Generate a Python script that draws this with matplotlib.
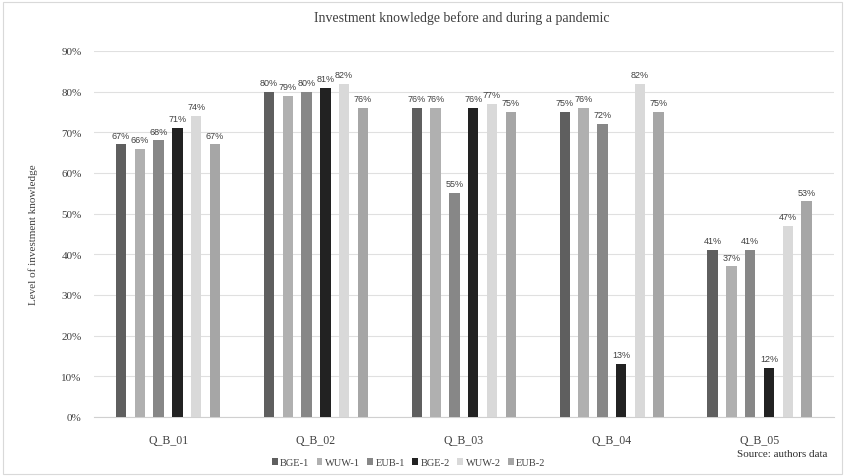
import numpy as np
import matplotlib.pyplot as plt
from matplotlib.patches import Rectangle

categories = ["Q_B_01", "Q_B_02", "Q_B_03", "Q_B_04", "Q_B_05"]
series_names = ["BGE-1", "WUW-1", "EUB-1", "BGE-2", "WUW-2", "EUB-2"]
bge1 = [67, 80, 76, 75, 41]
wuw1 = [66, 79, 76, 76, 37]
eub1 = [68, 80, 55, 72, 41]
bge2 = [71, 81, 76, 13, 12]
wuw2 = [74, 82, 77, 82, 47]
eub2 = [67, 76, 75, 75, 53]
colors = ["#5f5f5f", "#b0b0b0", "#878787", "#222222", "#d9d9d9", "#a6a6a6"]

serif = "Liberation Serif"
sans = "Liberation Sans"

fig = plt.figure(figsize=(8.48, 4.77), dpi=100)
ax = fig.add_axes([0.111, 0.124, 0.872, 0.767])

x = np.arange(len(categories))
step = 0.127
width = 0.071
for j, (name, vals) in enumerate(zip(series_names, [bge1, wuw1, eub1, bge2, wuw2, eub2])):
    pos = x + (j - 2.5) * step
    ax.bar(pos, vals, width, color=colors[j], label=name, zorder=3)
    for p, v in zip(pos, vals):
        ax.text(p, v + 1.2, f"{v}%", ha="center", va="bottom",
                fontsize=6.5, color="#404040", family=sans)

ax.set_xlim(-0.5, len(categories) - 0.5)
ax.set_ylim(0, 90)
ax.set_yticks(range(0, 91, 10))
ax.set_yticklabels([f"{t}%" for t in range(0, 91, 10)], family=serif, fontsize=8, color="#404040")
ax.set_xticks(x)
ax.set_xticklabels(categories, family=serif, fontsize=8.5, color="#404040")
ax.tick_params(axis="y", length=0, pad=9)
ax.tick_params(axis="x", length=0, pad=12)
ax.grid(axis="y", color="#e0e0e0", linewidth=0.8, zorder=0)
for s in ["top", "right", "left"]:
    ax.spines[s].set_visible(False)
ax.spines["bottom"].set_color("#d0d0d0")

ax.set_ylabel("Level of investment knowledge", family=serif, fontsize=8, color="#404040", labelpad=17)
fig.text(0.545, 0.962, "Investment knowledge before and during a pandemic",
         ha="center", va="center", family=serif, fontsize=10, color="#404040")

leg = fig.legend(loc="center", bbox_to_anchor=(0.482, 0.028), ncol=6, frameon=False,
                 prop={"family": serif, "size": 7.5}, handlelength=0.55, handleheight=0.55,
                 columnspacing=0.7, handletextpad=0.25)
for t in leg.get_texts():
    t.set_color("#404040")
fig.text(0.976, 0.048, "Source: authors data", ha="right", va="center",
         family=serif, fontsize=8, color="#303030")

fig.patches.append(Rectangle((0.003, 0.004), 0.99, 0.99, transform=fig.transFigure,
                             fill=False, edgecolor="#d9d9d9", linewidth=0.8))

fig.savefig("out.png", dpi=100)
